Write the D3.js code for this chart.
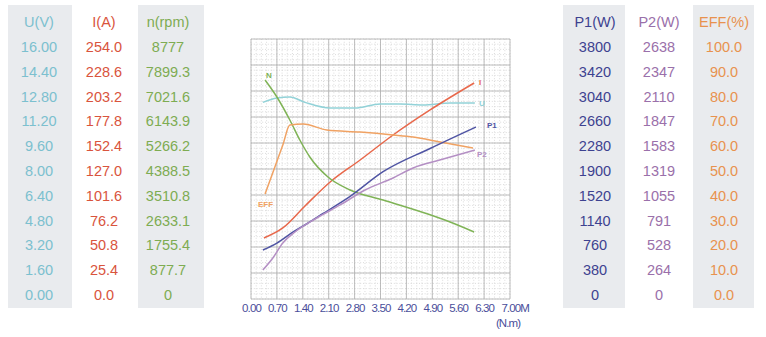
<!DOCTYPE html>
<html lang="en">
    <head>
        <title>Motor performance curves</title>
        <script src="https://d3js.org/d3.v7.min.js"></script>
        <style>
            body { margin: 0; background: #fff; }
            text { font-family: "Liberation Sans", Arial, sans-serif; }
        </style>
    </head>
    <body>
    <div id="mainDiv"></div>

        <script type="text/javascript">
            const width = 766
            const height = 337

            // table columns (tick labels)
            const uTicks = ['16.00', '14.40', '12.80', '11.20', '9.60', '8.00', '6.40', '4.80', '3.20', '1.60', '0.00']
            const iTicks = ['254.0', '228.6', '203.2', '177.8', '152.4', '127.0', '101.6', '76.2', '50.8', '25.4', '0.0']
            const nTicks = ['8777', '7899.3', '7021.6', '6143.9', '5266.2', '4388.5', '3510.8', '2633.1', '1755.4', '877.7', '0']
            const p1Ticks = ['3800', '3420', '3040', '2660', '2280', '1900', '1520', '1140', '760', '380', '0']
            const p2Ticks = ['2638', '2347', '2110', '1847', '1583', '1319', '1055', '791', '528', '264', '0']
            const effTicks = ['100.0', '90.0', '80.0', '70.0', '60.0', '50.0', '40.0', '30.0', '20.0', '10.0', '0.0']
            const xTicks = ['0.00', '0.70', '1.40', '2.10', '2.80', '3.50', '4.20', '4.90', '5.60', '6.30', '7.00M']

            // curves, torque in N.m
            const uX = [0.32, 0.70, 1.05, 1.46, 2.14, 2.81, 3.49, 4.03, 4.65, 5.38, 6.05]
            const uY = [12.1, 12.37, 12.43, 12.1, 11.75, 11.75, 12.0, 12.0, 11.94, 12.06, 12.06]
            const iX = [0.35, 0.86, 1.46, 2.14, 2.95, 3.84, 4.84, 6.03]
            const iY = [59.6, 69.4, 90.9, 114.3, 135.8, 160.2, 184.7, 211]
            const nX = [0.38, 0.70, 1.05, 1.32, 1.59, 2.08, 2.68, 3.57, 4.78, 5.38, 6.03]
            const nY = [7393, 6819, 6043, 5367, 4794, 4119, 3680, 3342, 2869, 2599, 2262]
            const effX = [0.38, 0.65, 0.86, 1.05, 1.41, 2.05, 2.95, 3.84, 4.38, 5.11, 6.0]
            const effY = [40.4, 51, 59.2, 66.9, 67.3, 65.0, 64.2, 63.1, 62.3, 60.4, 58.1]
            const p1X = [0.32, 0.70, 1.14, 1.51, 1.95, 2.68, 3.57, 4.84, 6.08]
            const p1Y = [716, 818, 980, 1100, 1250, 1500, 1860, 2200, 2514]
            const p2X = [0.32, 0.59, 0.86, 1.19, 1.78, 2.41, 3.08, 3.84, 4.38, 5.10, 6.05]
            const p2Y = [294, 416, 568, 680, 822, 954, 1106, 1228, 1329, 1410, 1512]

            const svg = d3.select('#mainDiv').append('svg')
                .attr('width', width)
                .attr('height', height)

            // ---- side tables ----
            const rowScale = d3.scaleLinear().domain([0, 10]).range([47, 295])

            const columns = [
                { head: 'U(V)', ticks: uTicks, x0: 8, x1: 72, cx: 39, color: '#7cc0cf', bg: true },
                { head: 'I(A)', ticks: iTicks, x0: 72, x1: 138, cx: 104, color: '#d9543d', bg: false },
                { head: 'n(rpm)', ticks: nTicks, x0: 138, x1: 204, cx: 168, color: '#7eac52', bg: true },
                { head: 'P1(W)', ticks: p1Ticks, x0: 563, x1: 625, cx: 595, color: '#3d4290', bg: true },
                { head: 'P2(W)', ticks: p2Ticks, x0: 625, x1: 693, cx: 659, color: '#9a70aa', bg: false },
                { head: 'EFF(%)', ticks: effTicks, x0: 693, x1: 754, cx: 724, color: '#e8924e', bg: true }
            ]

            columns.forEach(col => {
                const g = svg.append('g')
                if (col.bg) {
                    g.append('rect')
                        .attr('x', col.x0).attr('y', 5)
                        .attr('width', col.x1 - col.x0).attr('height', 303)
                        .style('fill', '#e9ebee')
                }
                g.append('text')
                    .attr('x', col.cx).attr('y', rowScale(-1))
                    .attr('dy', '0.35em')
                    .attr('text-anchor', 'middle')
                    .style('font-size', '14.5px')
                    .style('fill', col.color)
                    .text(col.head)
                g.selectAll('text.v')
                    .data(col.ticks)
                    .enter()
                    .append('text')
                    .attr('class', 'v')
                    .attr('x', col.cx)
                    .attr('y', (d, i) => rowScale(i))
                    .attr('dy', '0.35em')
                    .attr('text-anchor', 'middle')
                    .style('font-size', '14.5px')
                    .style('fill', col.color)
                    .text(d => d)
            })

            // ---- plot ----
            const plot = { left: 251, right: 510, top: 39, bottom: 299 }

            const xScale = d3.scaleLinear().domain([0, 7]).range([plot.left, plot.right])
            const yFrac = d3.scaleLinear().domain([0, 1]).range([plot.bottom, plot.top])

            const grid = svg.append('g')
            grid.append('rect')
                .attr('x', plot.left).attr('y', plot.top)
                .attr('width', plot.right - plot.left).attr('height', plot.bottom - plot.top)
                .style('fill', '#fff')

            const minor = d3.range(0, 51).map(i => i / 50)
            grid.selectAll('line.mx').data(minor).enter().append('line')
                .attr('x1', d => xScale(d * 7)).attr('x2', d => xScale(d * 7))
                .attr('y1', plot.top).attr('y2', plot.bottom)
                .style('stroke', '#cdcdcd').style('stroke-width', 0.7)
                .style('stroke-dasharray', '1,1.8')
            grid.selectAll('line.my').data(minor).enter().append('line')
                .attr('y1', d => yFrac(d)).attr('y2', d => yFrac(d))
                .attr('x1', plot.left).attr('x2', plot.right)
                .style('stroke', '#cdcdcd').style('stroke-width', 0.7)
                .style('stroke-dasharray', '1,1.8')

            const major = d3.range(0, 11).map(i => i / 10)
            grid.selectAll('line.Mx').data(major).enter().append('line')
                .attr('x1', d => xScale(d * 7)).attr('x2', d => xScale(d * 7))
                .attr('y1', plot.top).attr('y2', plot.bottom)
                .style('stroke', '#adadad').style('stroke-width', 0.8)
            grid.selectAll('line.My').data(major).enter().append('line')
                .attr('y1', d => yFrac(d)).attr('y2', d => yFrac(d))
                .attr('x1', plot.left).attr('x2', plot.right)
                .style('stroke', '#adadad').style('stroke-width', 0.8)

            // x axis labels
            const xAxis = d3.axisBottom(xScale)
                .tickValues(d3.range(0, 11).map(i => i * 0.7))
                .tickSize(0)
                .tickFormat((d, i) => xTicks[i])
            const xAxisPlot = svg.append('g')
                .attr('transform', `translate(0, ${plot.bottom})`)
                .call(xAxis)
            xAxisPlot.select('.domain').remove()
            xAxisPlot.selectAll('text')
                .attr('dy', '0.9em')
                .style('font-family', '"Liberation Sans", Arial, sans-serif')
                .style('font-size', '11.5px')
                .style('letter-spacing', '-0.9px')
                .style('fill', '#4a4e9a')
            xAxisPlot.selectAll('.tick:last-child text').attr('dx', '0.4em')
            svg.append('text')
                .attr('x', 508).attr('y', 327)
                .attr('text-anchor', 'middle')
                .style('font-size', '11.5px')
                .style('letter-spacing', '-0.9px')
                .style('fill', '#4a4e9a')
                .text('(N.m)')

            // curves
            const series = [
                { name: 'U', xs: uX, ys: uY, max: 16, color: '#92d2d8', lx: 479, ly: 106 },
                { name: 'I', xs: iX, ys: iY, max: 254, color: '#e8684b', lx: 479, ly: 85 },
                { name: 'N', xs: nX, ys: nY, max: 8777, color: '#7fb356', lx: 266, ly: 78 },
                { name: 'EFF', xs: effX, ys: effY, max: 100, color: '#f0a263', lx: 258, ly: 207 },
                { name: 'P1', xs: p1X, ys: p1Y, max: 3800, color: '#4f54a3', lx: 487, ly: 128 },
                { name: 'P2', xs: p2X, ys: p2Y, max: 2638, color: '#b48fc4', lx: 477, ly: 157 }
            ]

            series.forEach(s => {
                const yScale = d3.scaleLinear().domain([0, s.max]).range([plot.bottom, plot.top])
                const line = d3.line()
                    .x(d => xScale(d[0]))
                    .y(d => yScale(d[1]))
                    .curve(d3.curveMonotoneX)
                svg.append('path')
                    .datum(d3.zip(s.xs, s.ys))
                    .attr('d', line)
                    .style('fill', 'none')
                    .style('stroke', s.color)
                    .style('stroke-width', 1.5)
                svg.append('text')
                    .attr('x', s.lx).attr('y', s.ly)
                    .style('font-size', '8px')
                    .style('font-weight', 'bold')
                    .style('fill', s.color)
                    .text(s.name)
            })
        </script>
    </body>
</html>
